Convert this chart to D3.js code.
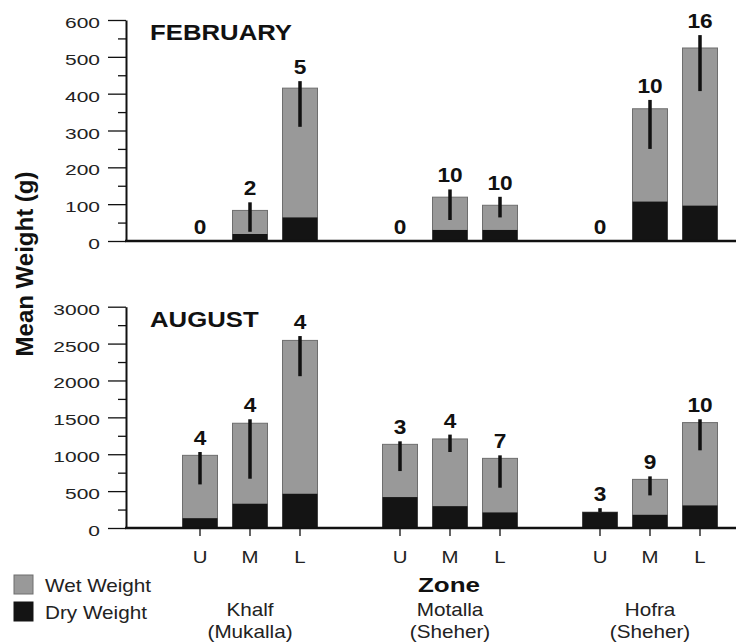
<!DOCTYPE html>
<html>
<head>
<meta charset="utf-8">
<script src="https://cdn.jsdelivr.net/npm/d3@7"></script>
<style>
  html, body { margin: 0; padding: 0; background: #fff; }
  svg { display: block; font-family: "Liberation Sans", Arial, Helvetica, sans-serif; }
</style>
</head>
<body>
<svg id="chart" width="739" height="643"></svg>
<script>
// Sites and shore zones (U = upper, M = middle, L = lower)
const sites = ["Khalf", "Motalla", "Hofra"];
const regions = ["(Mukalla)", "(Sheher)", "(Sheher)"];
const zones = ["U", "M", "L"];

// February means (g), ordered site by site, U/M/L within each site
const febWet     = [0,  83, 415, 0, 119,  97, 0, 359, 524];
const febDry     = [0,  19,  64, 0,  30,  30, 0, 107,  96];
const febErrLow  = [null, 25, 310, null, 57, 64, null, 250, 407];
const febErrHigh = [null, 105, 434, null, 140, 120, null, 383, 559];
const febN       = [0, 2, 5, 0, 10, 10, 0, 10, 16];

// August means (g)
const augWet     = [985, 1420, 2543, 1134, 1207, 944, 215, 659, 1429];
const augDry     = [133,  329,  464,  419,  296, 211, 215, 179,  306];
const augErrLow  = [591,  668, 2058,  772, 1030, 546, 215, 442, 1053];
const augErrHigh = [1030, 1474, 2602, 1175, 1266, 985, 269, 700, 1474];
const augN       = [4, 4, 4, 3, 4, 7, 3, 9, 10];

// Axis ticks
const febTicks = [0, 100, 200, 300, 400, 500, 600];
const febMinor = [50, 150, 250, 350, 450, 550];
const augTicks = [0, 500, 1000, 1500, 2000, 2500, 3000];
const augMinor = [250, 750, 1250, 1750, 2250, 2750];

const legendItems = ["Wet Weight", "Dry Weight"];

const WET = "#999999", WET_EDGE = "#6e6e6e", DRY = "#141414", INK = "#111";

const svg = d3.select("#chart");

// Horizontally widened text, as in the printed figure
function putText(sel, x, y, sx) {
  return sel.attr("transform", `translate(${x},${y}) scale(${sx},1)`);
}

const axisX = 126, lineEnd = 736;
const siteScale = d3.scaleBand().domain(sites).range([150, 750]);
const zoneScale = d3.scaleBand().domain(zones).range([25, 175]).paddingInner(0.3).paddingOuter(0.15);

const cells = sites.flatMap((s, i) => zones.map((z, j) => ({ site: s, zone: z, i: i * 3 + j })));
const xLeft = d => siteScale(d.site) + zoneScale(d.zone);
const xMid = d => xLeft(d) + zoneScale.bandwidth() / 2;

const panels = [
  { title: "FEBRUARY", wet: febWet, dry: febDry, lo: febErrLow, hi: febErrHigh, n: febN,
    ticks: febTicks, minor: febMinor, range: [241, 20], xTicks: false, titleY: 40 },
  { title: "AUGUST", wet: augWet, dry: augDry, lo: augErrLow, hi: augErrHigh, n: augN,
    ticks: augTicks, minor: augMinor, range: [528, 306.7], xTicks: true, titleY: 327 }
];

panels.forEach(p => {
  const y = d3.scaleLinear().domain([0, d3.max(p.ticks)]).range(p.range);
  const g = svg.append("g");

  // wet weight bars (full height)
  g.selectAll("rect.wet").data(cells.filter(d => p.wet[d.i] > 0)).join("rect")
    .attr("class", "wet")
    .attr("x", xLeft).attr("width", zoneScale.bandwidth())
    .attr("y", d => y(p.wet[d.i])).attr("height", d => y(0) - y(p.wet[d.i]))
    .attr("fill", WET).attr("stroke", WET_EDGE).attr("stroke-width", 1);

  // dry weight portion
  g.selectAll("rect.dry").data(cells.filter(d => p.dry[d.i] > 0)).join("rect")
    .attr("class", "dry")
    .attr("x", xLeft).attr("width", zoneScale.bandwidth())
    .attr("y", d => y(p.dry[d.i])).attr("height", d => y(0) - y(p.dry[d.i]))
    .attr("fill", DRY);

  // error bars
  g.selectAll("line.err").data(cells.filter(d => p.hi[d.i] != null)).join("line")
    .attr("class", "err")
    .attr("x1", xMid).attr("x2", xMid)
    .attr("y1", d => y(p.lo[d.i])).attr("y2", d => y(p.hi[d.i]))
    .attr("stroke", INK).attr("stroke-width", 3.5);

  // sample sizes
  g.selectAll("text.n").data(cells).join("text")
    .attr("class", "n")
    .attr("text-anchor", "middle")
    .attr("font-size", 21).attr("font-weight", "bold").attr("fill", INK)
    .each(function (d) {
      const top = p.hi[d.i] != null ? y(p.hi[d.i]) : y(0);
      putText(d3.select(this), xMid(d), top - 7, 1.08);
    })
    .text(d => p.n[d.i]);

  // y axis: major ticks with labels
  const major = g.append("g").attr("transform", `translate(${axisX},0)`)
    .call(d3.axisLeft(y).tickValues(p.ticks).tickSize(18).tickSizeOuter(0).tickFormat(d3.format("d")));
  major.select(".domain").attr("stroke", INK).attr("stroke-width", 2);
  major.selectAll(".tick line").attr("stroke", INK).attr("stroke-width", 1.3);
  major.selectAll(".tick text")
    .attr("x", null).attr("dy", null)
    .attr("font-size", 15).attr("font-family", null).attr("fill", "#222")
    .attr("text-anchor", "end")
    .attr("transform", "translate(-26,7.5) scale(1.4,1)");
  major.attr("font-family", null).attr("font-size", null);

  // y axis: minor ticks
  const minor = g.append("g").attr("transform", `translate(${axisX},0)`)
    .call(d3.axisLeft(y).tickValues(p.minor).tickSize(8).tickFormat(""));
  minor.select(".domain").remove();
  minor.selectAll(".tick line").attr("stroke", INK).attr("stroke-width", 1.3);

  // baseline
  g.append("line")
    .attr("x1", axisX - 1).attr("x2", lineEnd)
    .attr("y1", y(0)).attr("y2", y(0))
    .attr("stroke", INK).attr("stroke-width", 2.5);

  // zone tick marks under the lower panel
  if (p.xTicks) {
    g.selectAll("line.xt").data(cells).join("line")
      .attr("class", "xt")
      .attr("x1", xMid).attr("x2", xMid)
      .attr("y1", y(0)).attr("y2", y(0) + 8)
      .attr("stroke", INK).attr("stroke-width", 1.3);
  }

  // month title
  putText(g.append("text"), 150, p.titleY, 1.17)
    .attr("font-size", 22).attr("font-weight", "bold").attr("fill", INK)
    .text(p.title);
});

// zone letters
svg.append("g").selectAll("text").data(cells).join("text")
  .attr("text-anchor", "middle").attr("font-size", 17).attr("fill", "#222")
  .each(function (d) { putText(d3.select(this), xMid(d), 563, 1.2); })
  .text(d => d.zone);

// axis titles
putText(svg.append("text"), 449, 591.5, 1.3)
  .attr("text-anchor", "middle").attr("font-size", 20).attr("font-weight", "bold").attr("fill", INK)
  .text("Zone");

svg.append("text")
  .attr("transform", "translate(33,264) rotate(-90)")
  .attr("text-anchor", "middle").attr("font-size", 24).attr("font-weight", "bold").attr("fill", INK)
  .text("Mean Weight (g)");

// site names
const siteLabels = svg.append("g");
sites.forEach((s, i) => {
  const cx = siteScale(s) + siteScale.bandwidth() / 2;
  putText(siteLabels.append("text"), cx, 616, 1.15)
    .attr("text-anchor", "middle").attr("font-size", 18).attr("fill", "#222").text(s);
  putText(siteLabels.append("text"), cx, 638, 1.15)
    .attr("text-anchor", "middle").attr("font-size", 18).attr("fill", "#222").text(regions[i]);
});

// legend
const legend = svg.append("g");
legendItems.forEach((label, i) => {
  const top = 575 + i * 27;
  legend.append("rect")
    .attr("x", 14).attr("y", top).attr("width", 19).attr("height", 19)
    .attr("fill", i === 0 ? WET : DRY)
    .attr("stroke", i === 0 ? WET_EDGE : DRY).attr("stroke-width", 1);
  putText(legend.append("text"), 45, top + 16.5, 1.15)
    .attr("font-size", 18).attr("fill", "#222").text(label);
});
</script>
</body>
</html>
